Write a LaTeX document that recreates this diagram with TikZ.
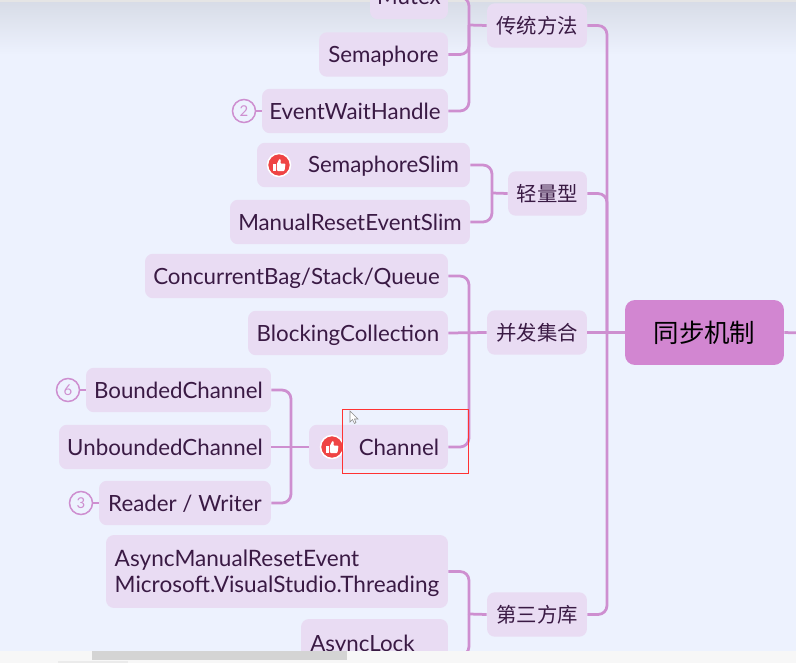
\documentclass[tikz,border=0pt]{standalone}
\usepackage{fontspec}
\setmainfont{Lato}
\newfontfamily\cjk{Noto Sans CJK SC}

\definecolor{pagebg}{HTML}{EDF2FE}
\definecolor{boxfill}{HTML}{E9DCF3}
\definecolor{linkcol}{HTML}{CE8FD0}
\definecolor{rootfill}{HTML}{D286D1}
\definecolor{inktext}{HTML}{3A1A44}
\definecolor{thumbred}{HTML}{EF4444}

\tikzset{
    boxbase/.style={fill=boxfill, rounded corners=0.16cm, text=inktext, minimum height=0.89cm, inner sep=0pt},
    item/.style={boxbase, text height=0.4cm, text depth=0.08cm, font=\fontsize{12.7}{15.3}\selectfont},
    twolines/.style={boxbase, minimum height=1.46cm, align=left, font=\fontsize{12.85}{15.3}\selectfont},
    group/.style={boxbase, font=\cjk\fontsize{11.6}{15}\selectfont},
    root/.style={fill=rootfill, rounded corners=0.2cm, text=black, minimum width=3.18cm, minimum height=1.3cm, inner sep=0pt, font=\cjk\fontsize{14.5}{18}\selectfont},
    link/.style={draw=linkcol, line width=0.055cm, rounded corners=0.18cm},
    badge/.style={circle, draw=linkcol, line width=0.03cm, fill=pagebg, minimum size=0.46cm, inner sep=0pt, text=linkcol, font=\fontsize{8.5}{10}\selectfont},
    thumbdot/.style={circle, draw=white, line width=0.03cm, fill=thumbred, minimum size=0.46cm, inner sep=0pt},
    thumb/.pic={
        \fill[white] (-6,-1) rectangle (-3.2,6);
        \fill[white, rounded corners=0.02cm] (-2.2,6) -- (-2.2,-1) -- (0.5,-6.5) -- (2,-5) -- (1.2,-1.5) -- (6.5,-1.5) -- (5.5,6) -- cycle;
    }
}

\begin{document}
\begin{tikzpicture}[x=0.02cm, y=-0.02cm]

\useasboundingbox (0,0) rectangle (796,663);
\clip (0,0) rectangle (796,663);

% ==== BACKGROUND ====
\fill[pagebg] (0,0) rectangle (796,663);
\fill[top color=black!9!pagebg, bottom color=pagebg] (0,2) rectangle (796,55);
\fill[black!10] (0,0) rectangle (796,2);

% ==== BUS POINTS ====
\coordinate (mainbus) at (607,333);
\coordinate (tradbus) at (469,25);
\coordinate (slimbus) at (492,193);
\coordinate (collbus) at (469,333);
\coordinate (chanbus) at (291,447);
\coordinate (thirdbus) at (469,614);
\coordinate (offright) at (800,333);

% ==== ROOT AND GROUPS ====
\node[root] (sync) at (704.5,332.5) {同步机制};
\node[group, minimum width=2cm] (trad) at (537,25.5) {传统方法};
\node[group, minimum width=1.58cm] (slim) at (547.5,193.5) {轻量型};
\node[group, minimum width=2cm] (coll) at (537,332.5) {并发集合};
\node[group, minimum width=2cm] (third) at (537,614.5) {第三方库};

% ==== LEAVES ====
\node[item, minimum width=1.56cm] (mutex) at (409,-3) {Mutex};
\node[item, minimum width=2.58cm] (sema) at (383.5,54.5) {Semaphore};
\node[item, minimum width=3.72cm] (ewh) at (355,111) {EventWaitHandle};
\node[item, minimum width=4.26cm] (semaslim) at (363.5,165) {\hspace*{0.8cm}SemaphoreSlim};
\node[item, minimum width=4.8cm] (mres) at (350,222) {ManualResetEventSlim};
\node[item, minimum width=6.06cm] (bag) at (296.5,276) {ConcurrentBag/Stack/Queue};
\node[item, minimum width=4cm] (block) at (348,333) {BlockingCollection};
\node[item, minimum width=2.78cm] (chan) at (378.5,447) {\hspace*{0.82cm}Channel};
\node[item, minimum width=3.7cm] (bounded) at (178.5,390) {BoundedChannel};
\node[item, minimum width=4.24cm] (unbounded) at (165,447) {UnboundedChannel};
\node[item, minimum width=3.44cm] (rw) at (185,503) {Reader / Writer};
\node[twolines, minimum width=6.84cm] (amre) at (277,571.5) {\rule{0pt}{11.5pt}AsyncManualResetEvent\\Microsoft.VisualStudio.Threading};
\node[item, minimum width=2.94cm, minimum height=1.46cm, text depth=0.58cm] (lock) at (374.5,655.5) {AsyncLock\hspace*{0.48cm}};

% ==== BADGES ====
\node[badge] (two) at (244,111) {2};
\node[badge] (six) at (68,390) {6};
\node[badge] (three) at (81,503) {3};
\node[thumbdot] (likeslim) at (279,165) {};
\node[thumbdot] (likechan) at (332,447) {};
\pic at (likeslim) {thumb};
\pic at (likechan) {thumb};

% ==== LINKS ====
\draw[link] (sync.west) -- (coll.east);
\draw[link] (sync.east) -- (offright);
\draw[link] (trad.east) -| (mainbus);
\draw[link] (slim.east) -| (mainbus);
\draw[link] (third.east) -| (mainbus);

\foreach \leaf in {mutex,sema,ewh}{
    \draw[link] (\leaf.east) -| (tradbus);
}
\draw[link] (trad.west) -- (tradbus);

\foreach \leaf in {semaslim,mres}{
    \draw[link] (\leaf.east) -| (slimbus);
}
\draw[link] (slim.west) -- (slimbus);

\foreach \leaf in {bag,chan}{
    \draw[link] (\leaf.east) -| (collbus);
}
\draw[link] (block.east) -- (coll.west);

\foreach \leaf in {bounded,rw}{
    \draw[link] (\leaf.east) -| (chanbus);
}
\draw[link] (unbounded.east) -- (chan.west);

\draw[link] (amre.east) -| (thirdbus);
\draw[link] (lock.east) -| (thirdbus);
\draw[link] (thirdbus) -- (third.west);

\draw[link, line width=0.04cm] (two) -- (ewh);
\draw[link, line width=0.04cm] (six) -- (bounded);
\draw[link, line width=0.04cm] (three) -- (rw);

% ==== SCREEN MARKS ====
\draw[red!80, line width=0.02cm] (342.5,409.5) rectangle (468.5,473.5);
\draw[black!45, fill=white, line width=0.012cm] (350,411) -- (350,422) -- (352.5,419.5) -- (354.5,423.5) -- (356,422.5) -- (354.5,419) -- (358,419) -- cycle;

% ==== SCROLL BAR ====
\fill[black!3] (0,651) rectangle (796,663);
\fill[black!17] (92,651) rectangle (347,660);
\fill[black!8] (58,661) rectangle (128,663);

\end{tikzpicture}
\end{document}
